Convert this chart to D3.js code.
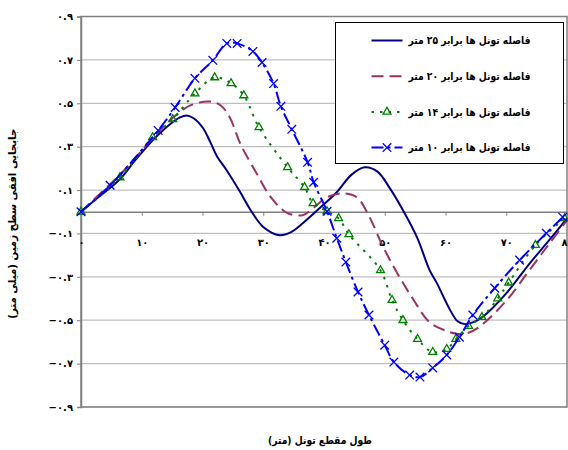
<!DOCTYPE html>
<html>
<head>
<meta charset="utf-8">
<script src="https://cdn.jsdelivr.net/npm/d3@7"></script>
<style>
  body { margin: 0; background: #fff; }
  svg { font-family: "DejaVu Sans", sans-serif; font-weight: bold; }
</style>
</head>
<body>
<div id="chart"></div>
<script>
// series data: [x (m), horizontal displacement (mm)]
var s25 = [[0,0],[3,0.07],[6.4,0.15],[9,0.24],[12,0.335],[14.5,0.4],[16.3,0.435],[17.4,0.444],[18.6,0.43],[20.1,0.385],[21.3,0.32],[22.4,0.255],[24,0.19],
  [26,0.1],[28.1,0.0],[30,-0.07],[32.7,-0.108],[34.5,-0.095],[36.5,-0.053],[39.8,0.03],[42.1,0.09],[44.5,0.17],[46.7,0.205],
  [48.8,0.185],[50.8,0.11],[53,0.007],[55.3,-0.117],[57.4,-0.27],[58.6,-0.33],[60.7,-0.45],[62,-0.505],[63.2,-0.518],
  [64.5,-0.51],[66.1,-0.485],[70,-0.376],[73.8,-0.24],[77.1,-0.13],[80,-0.03]];
var s20 = [[0,0],[3,0.08],[6.4,0.17],[9,0.25],[12,0.345],[15,0.43],[18,0.49],[21.2,0.508],[23,0.49],[24.5,0.435],[26.2,0.315],
  [28.9,0.177],[31.3,0.065],[33.9,-0.005],[36.5,-0.016],[38.2,0.016],[40.5,0.067],[43.1,0.085],[45.4,0.067],[47.5,-0.025],
  [49.7,-0.16],[52,-0.28],[54.6,-0.4],[57.4,-0.51],[60.2,-0.55],[61.8,-0.562],[63.5,-0.56],[65.6,-0.53],[70,-0.41],
  [73.8,-0.27],[77.1,-0.146],[80,-0.04]];
var s14 = [[0,0],[6.4,0.158],[11.8,0.343],[15.1,0.426],[18.75,0.545],[22,0.619],[24.7,0.592],[26.8,0.536],[29.3,0.389],
  [34,0.205],[36.8,0.113],[38.2,0.039],[40.5,0.002],[42.4,-0.03],[44.1,-0.104],[49.3,-0.27],[51.2,-0.407],[53,-0.5],
  [55.4,-0.587],[57.9,-0.647],[60.2,-0.633],[61.7,-0.587],[63.8,-0.527],[66,-0.486],[68.6,-0.4],[70.4,-0.327],
  [74.8,-0.154],[79.6,-0.03]];
var s10 = [[0,0],[4.8,0.122],[12.7,0.375],[15.5,0.481],[18.75,0.615],[21.7,0.698],[24,0.776],[25.7,0.776],[28.3,0.739],
  [29.8,0.688],[31.7,0.591],[32.9,0.486],[34.7,0.38],[37.3,0.228],[38.3,0.136],[40.5,0.002],[42.1,-0.122],[43.6,-0.232],
  [45.6,-0.37],[47.4,-0.476],[50,-0.615],[51.5,-0.693],[54.1,-0.753],[55.8,-0.762],[57.9,-0.72],[60.2,-0.66],
  [62.3,-0.578],[64.5,-0.476],[68.1,-0.352],[72.2,-0.223],[76.6,-0.099],[79.3,-0.025]];

var seriesNames = ["فاصله تونل ها برابر ۲۵ متر", "فاصله تونل ها برابر ۲۰ متر", "فاصله تونل ها برابر ۱۴ متر", "فاصله تونل ها برابر ۱۰ متر"];
var xTicks = [0, 10, 20, 30, 40, 50, 60, 70, 80];
var yTicks = [-0.9, -0.7, -0.5, -0.3, -0.1, 0.1, 0.3, 0.5, 0.7, 0.9];
var xTitle = "طول مقطع تونل (متر)";
var yTitle = "جابجایی افقی سطح زمین (میلی متر)";

var fa = function(v) {
  var s = Math.abs(v).toString().replace(/[0-9]/g, function(c){ return "۰۱۲۳۴۵۶۷۸۹"[+c]; });
  return (v < 0 ? "−" : "") + s;
};

var margin = {top: 16.5, right: 1, bottom: 43, left: 81};
var W = 568, H = 450;
var width = W - margin.left - margin.right;
var height = H - margin.top - margin.bottom;

var x = d3.scaleLinear().domain([0, 80]).range([0, width]);
var y = d3.scaleLinear().domain([-0.9, 0.9]).range([height, 0]);

var svg = d3.select("#chart").append("svg")
    .attr("width", W).attr("height", H)
  .append("g")
    .attr("transform", "translate(" + margin.left + "," + margin.top + ")");

// gridlines
svg.append("g").selectAll("line")
    .data(yTicks)
  .enter().append("line")
    .attr("x1", 0).attr("x2", width)
    .attr("y1", function(d){ return y(d); }).attr("y2", function(d){ return y(d); })
    .attr("stroke", "#c0c0c0").attr("stroke-width", 1.2);

// plot frame
svg.append("rect")
    .attr("width", width).attr("height", height)
    .attr("fill", "none").attr("stroke", "#808080").attr("stroke-width", 1.5);

// y axis
var yAxis = svg.append("g")
    .call(d3.axisLeft(y).tickValues(yTicks).tickSize(4).tickFormat(fa));
yAxis.select(".domain").attr("stroke", "#808080").attr("stroke-width", 1.5);
yAxis.selectAll(".tick line").attr("stroke", "#808080");
yAxis.selectAll("text").attr("font-size", 10).attr("fill", "#000").attr("x", -8)
    .style("font-family", "DejaVu Sans").style("font-weight", "bold");

// x axis at y = 0, labels placed low
var xAxis = svg.append("g")
    .attr("transform", "translate(0," + y(0) + ")")
    .call(d3.axisBottom(x).tickValues(xTicks).tickSize(4).tickFormat(fa));
xAxis.select(".domain").attr("stroke", "#808080").attr("stroke-width", 1.5);
xAxis.selectAll(".tick line").attr("stroke", "#808080");
xAxis.selectAll("text").attr("font-size", 10).attr("fill", "#000")
    .attr("y", y(-0.1) - y(0) + 5)
    .style("font-family", "DejaVu Sans").style("font-weight", "bold");

// axis titles
svg.append("text")
    .attr("transform", "translate(" + (width / 2 - 4) + "," + (H - margin.top - 6) + ")")
    .attr("text-anchor", "middle").attr("font-size", 11)
    .attr("textLength", 104).attr("lengthAdjust", "spacingAndGlyphs")
    .text(xTitle);

svg.append("text")
    .attr("transform", "translate(" + (-margin.left + 16) + "," + (height / 2 + 12) + ") rotate(-90)")
    .attr("text-anchor", "middle").attr("font-size", 11)
    .attr("textLength", 190).attr("lengthAdjust", "spacingAndGlyphs")
    .text(yTitle);

var styles = [
  {data: s25, color: "#000080", dash: null, marker: null},
  {data: s20, color: "#993366", dash: "12,6", marker: null},
  {data: s14, color: "#008000", dash: "2.5,6", marker: d3.symbolTriangle2},
  {data: s10, color: "#0000ff", dash: "12,4,3,4", marker: d3.symbolTimes}
];

var line = d3.line()
    .x(function(d){ return x(d[0]); })
    .y(function(d){ return y(d[1]); })
    .curve(d3.curveCatmullRom.alpha(0.5));

styles.forEach(function(s) {
  svg.append("path")
      .datum(s.data)
      .attr("fill", "none")
      .attr("stroke", s.color)
      .attr("stroke-width", 2)
      .attr("stroke-dasharray", s.dash)
      .attr("d", line);
  if (s.marker) {
    svg.append("g").selectAll("path")
        .data(s.data)
      .enter().append("path")
        .attr("transform", function(d){ return "translate(" + x(d[0]) + "," + y(d[1]) + ")"; })
        .attr("d", d3.symbol().type(s.marker).size(s.marker === d3.symbolTimes ? 50 : 45))
        .attr("fill", "none")
        .attr("stroke", s.color)
        .attr("stroke-width", 1.3);
  }
});

// legend
var legend = svg.append("g")
    .attr("transform", "translate(" + (335.5 - margin.left) + "," + (22.5 - margin.top) + ")");
legend.append("rect")
    .attr("width", 228).attr("height", 141)
    .attr("fill", "#fff").attr("stroke", "#000").attr("stroke-width", 1);

var items = legend.selectAll(".item")
    .data(styles)
  .enter().append("g")
    .attr("transform", function(d, i){ return "translate(0," + (18 + i * 35.7) + ")"; });
items.append("line")
    .attr("x1", 36).attr("x2", 67)
    .attr("stroke", function(d){ return d.color; })
    .attr("stroke-width", 2)
    .attr("stroke-dasharray", function(d){ return d.dash; });
items.filter(function(d){ return d.marker; }).append("path")
    .attr("transform", "translate(51.5,0)")
    .attr("d", function(d){ return d3.symbol().type(d.marker).size(d.marker === d3.symbolTimes ? 50 : 45)(); })
    .attr("fill", "none")
    .attr("stroke", function(d){ return d.color; })
    .attr("stroke-width", 1.3);
items.append("text")
    .attr("x", 195).attr("dy", "0.35em")
    .attr("text-anchor", "end").attr("font-size", 11)
    .attr("textLength", 122).attr("lengthAdjust", "spacingAndGlyphs")
    .text(function(d, i){ return seriesNames[i]; });
</script>
</body>
</html>
